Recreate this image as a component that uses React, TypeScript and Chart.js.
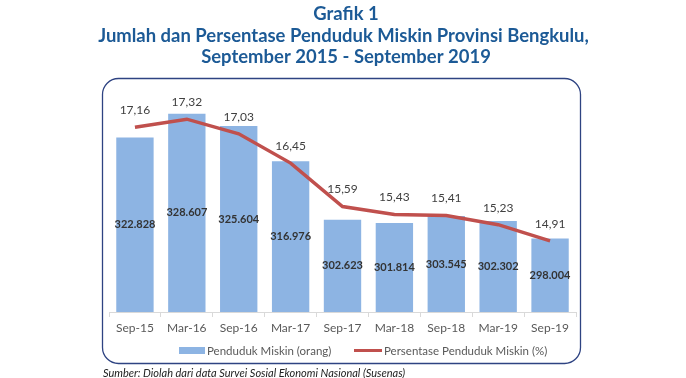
import React, { useEffect, useRef } from "react";
import { Chart, registerables } from "chart.js";

Chart.register(...registerables);

const categories = ["Sep-15", "Mar-16", "Sep-16", "Mar-17", "Sep-17", "Mar-18", "Sep-18", "Mar-19", "Sep-19"];
const pendudukMiskin = [322828, 328607, 325604, 316976, 302623, 301814, 303545, 302302, 298004];
const persentase = [17.16, 17.32, 17.03, 16.45, 15.59, 15.43, 15.41, 15.23, 14.91];
const titleLines = [
  "Grafik 1",
  "Jumlah dan Persentase Penduduk Miskin Provinsi Bengkulu,",
  "September 2015 - September 2019",
];
const legendLabels = ["Penduduk Miskin (orang)", "Persentase Penduduk Miskin (%)"];
const sourceText = "Sumber: Diolah dari data Survei Sosial Ekonomi Nasional (Susenas)";

const BAR_COLOR = "#8db4e3";
const LINE_COLOR = "#c0504d";
const TITLE_COLOR = "#1c5a96";
const FONT = "Lato, 'Open Sans', sans-serif";

const fmtThousands = (v: number) => v.toString().replace(/\B(?=(\d{3})+(?!\d))/g, ".");
const fmtPct = (v: number) => v.toFixed(2).replace(".", ",");

const decorPlugin = {
  id: "decor",
  beforeDraw(chart: any) {
    const ctx = chart.ctx as CanvasRenderingContext2D;
    ctx.save();
    const x = 102.5, y = 78.5, w = 478, h = 285, r = 16;
    ctx.beginPath();
    ctx.moveTo(x + r, y);
    ctx.lineTo(x + w - r, y);
    ctx.arcTo(x + w, y, x + w, y + r, r);
    ctx.lineTo(x + w, y + h - r);
    ctx.arcTo(x + w, y + h, x + w - r, y + h, r);
    ctx.lineTo(x + r, y + h);
    ctx.arcTo(x, y + h, x, y + h - r, r);
    ctx.lineTo(x, y + r);
    ctx.arcTo(x, y, x + r, y, r);
    ctx.closePath();
    ctx.strokeStyle = "#2e4382";
    ctx.lineWidth = 1.3;
    ctx.stroke();

    ctx.fillStyle = TITLE_COLOR;
    ctx.textAlign = "center";
    ctx.textBaseline = "middle";
    ctx.font = `bold 16px ${FONT}`;
    const m = ctx.measureText(titleLines[1]).width;
    const size = 16 * 491 / m;
    ctx.font = `bold ${size.toFixed(2)}px ${FONT}`;
    ctx.fillText(titleLines[0], 346, 14);
    ctx.fillText(titleLines[1], 343.5, 36);
    ctx.fillText(titleLines[2], 346, 57);

    ctx.fillStyle = BAR_COLOR;
    ctx.fillRect(179, 347, 26, 7);
    ctx.strokeStyle = LINE_COLOR;
    ctx.lineWidth = 3;
    ctx.beginPath();
    ctx.moveTo(354, 350.5);
    ctx.lineTo(382, 350.5);
    ctx.stroke();
    ctx.fillStyle = "#595959";
    ctx.textAlign = "left";
    ctx.font = `11.5px ${FONT}`;
    ctx.fillText(legendLabels[0], 207, 351);
    ctx.fillText(legendLabels[1], 384, 351);

    ctx.fillStyle = "#222";
    ctx.font = `italic 11px ${FONT}`;
    ctx.fillText(sourceText, 103, 373);
    ctx.restore();
  },
  afterDatasetsDraw(chart: any) {
    const ctx = chart.ctx as CanvasRenderingContext2D;
    ctx.save();
    ctx.textAlign = "center";
    ctx.textBaseline = "middle";
    const xs = chart.scales.x;
    const ys = chart.scales.y;
    const bottom = chart.chartArea.bottom;
    ctx.font = `bold 11px ${FONT}`;
    ctx.fillStyle = "#333333";
    pendudukMiskin.forEach((v, i) => {
      const px = xs.getPixelForValue(i);
      const top = ys.getPixelForValue(v);
      ctx.fillText(fmtThousands(v), px, (top + bottom) / 2);
    });
    const y1 = chart.scales.y1;
    ctx.font = `12px ${FONT}`;
    ctx.fillStyle = "#404040";
    persentase.forEach((v, i) => {
      ctx.fillText(fmtPct(v), xs.getPixelForValue(i), y1.getPixelForValue(v) - 17);
    });
    ctx.restore();
  },
};

export default function App() {
  const ref = useRef<HTMLCanvasElement>(null);
  useEffect(() => {
    if (!ref.current) return;
    const chart = new Chart(ref.current, {
      data: {
        labels: categories,
        datasets: [
          {
            type: "bar",
            label: legendLabels[0],
            data: pendudukMiskin,
            backgroundColor: BAR_COLOR,
            yAxisID: "y",
            order: 2,
            categoryPercentage: 1,
            barPercentage: 0.72,
          },
          {
            type: "line",
            label: legendLabels[1],
            data: persentase,
            borderColor: LINE_COLOR,
            borderWidth: 3.5,
            pointRadius: 0,
            tension: 0,
            yAxisID: "y1",
            order: 1,
          },
        ],
      } as any,
      options: {
        animation: false,
        responsive: false,
        layout: { padding: { left: 109, right: 110, top: 100, bottom: 36 } },
        plugins: { legend: { display: false }, tooltip: { enabled: false }, title: { display: false } },
        scales: {
          x: {
            offset: true,
            grid: { offset: true, drawOnChartArea: false, tickLength: 5, color: "#d9d9d9" },
            border: { color: "#d9d9d9" },
            ticks: { color: "#595959", font: { family: FONT, size: 12 }, padding: 4, maxRotation: 0 },
            afterFit: (s: any) => { s.height = 30; },
          },
          y: { display: false, min: 280000, max: 332000 },
          y1: { display: false, min: 13.5, max: 17.7, position: "right" },
        },
      } as any,
      plugins: [decorPlugin],
    });
    return () => chart.destroy();
  }, []);
  return (
    <div style={{ position: "absolute", left: 0, top: 0, width: 686, height: 378, background: "#fff" }}>
      <canvas ref={ref} width={686} height={378} style={{ width: 686, height: 378 }} />
    </div>
  );
}
